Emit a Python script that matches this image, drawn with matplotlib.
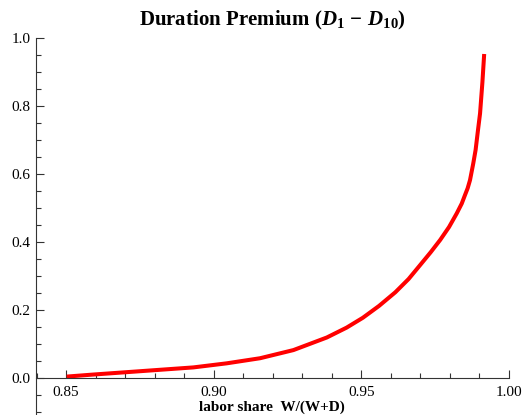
import matplotlib
matplotlib.use("Agg")
import matplotlib.pyplot as plt
from matplotlib.ticker import MultipleLocator

plt.rcParams['font.family'] = ['Liberation Serif', 'DejaVu Serif']
plt.rcParams['mathtext.fontset'] = 'custom'
plt.rcParams['mathtext.rm'] = 'Liberation Serif:bold'
plt.rcParams['mathtext.it'] = 'Liberation Serif:bold:italic'
plt.rcParams['mathtext.bf'] = 'Liberation Serif:bold'

# labor share vs duration premium
labor_share = [0.8502, 0.8592, 0.8705, 0.8818, 0.8931, 0.9044, 0.9157,
               0.9270, 0.9383, 0.9450, 0.9505, 0.9560, 0.9615, 0.9660,
               0.9699, 0.9735, 0.9767, 0.9797, 0.9823, 0.9840, 0.9851,
               0.9860, 0.9868, 0.9879, 0.9887, 0.9895, 0.9902, 0.9910,
               0.9916]
premium = [0.004, 0.010, 0.017, 0.024, 0.031, 0.043, 0.058,
           0.082, 0.119, 0.148, 0.177, 0.212, 0.252, 0.291,
           0.332, 0.370, 0.406, 0.444, 0.484, 0.513, 0.538,
           0.558, 0.582, 0.631, 0.671, 0.729, 0.778, 0.870,
           0.953]

title = r'Duration Premium $(D_1\,-\,D_{10})$'
xlabel = 'labor share  W/(W+D)'

fig = plt.figure(figsize=(5.23, 4.15), dpi=100)
ax = fig.add_axes([0.0688, 0.0, 0.9044, 0.9084])

ax.plot(labor_share, premium, color='#ff0000', lw=2.9,
        solid_capstyle='butt', solid_joinstyle='round')

ax.set_xlim(0.8398, 1.0)
ax.set_ylim(-0.109, 1.0)

for s in ['top', 'right']:
    ax.spines[s].set_visible(False)
ax.spines['bottom'].set_position(('data', 0))
for s in ['left', 'bottom']:
    ax.spines[s].set_linewidth(0.8)
    ax.spines[s].set_color('#333333')

ax.xaxis.set_minor_locator(MultipleLocator(0.01))
ax.yaxis.set_minor_locator(MultipleLocator(0.05))
ax.set_xticks([0.85, 0.90, 0.95, 1.00])
ax.set_xticklabels(['0.85', '0.90', '0.95', '1.00'])
ax.set_yticks([0.0, 0.2, 0.4, 0.6, 0.8, 1.0])
ax.set_yticklabels(['0.0', '0.2', '0.4', '0.6', '0.8', '1.0'])

ax.tick_params(which='both', direction='in', color='#333333', width=0.8,
               labelsize=11)
ax.tick_params(which='major', length=6)
ax.tick_params(which='minor', length=3.5)
ax.tick_params(axis='x', pad=6)
ax.tick_params(axis='y', pad=4)

ax.set_title(title, fontsize=15, fontweight='bold', pad=9)
fig.text(0.52, 0.018, xlabel, fontsize=11, fontweight='bold',
         ha='center', va='center')

fig.savefig('out.png', dpi=100)
